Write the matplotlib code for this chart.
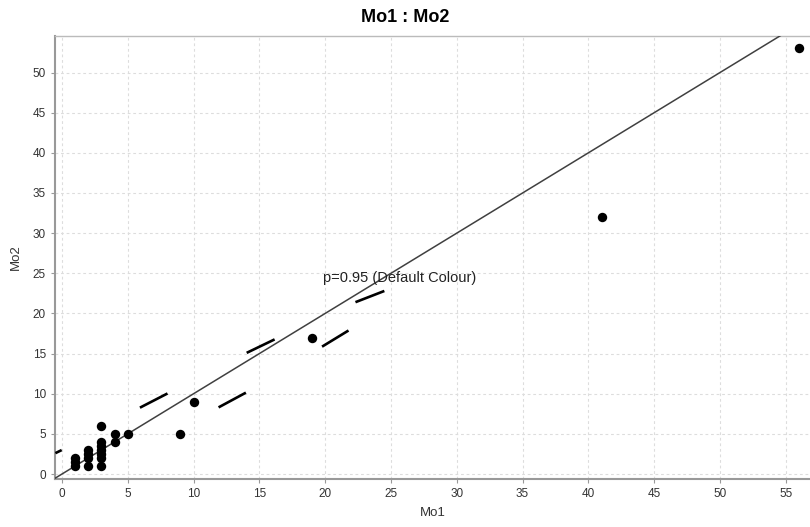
import matplotlib
matplotlib.use('Agg')
import matplotlib.pyplot as plt
import numpy as np

plt.rcParams['font.family'] = ['Liberation Sans', 'DejaVu Sans']
plt.rcParams['lines.scale_dashes'] = False

# Observations
mo1 = [1, 1, 1, 2, 2, 2, 2, 3, 3, 3, 3, 3, 3, 3, 4, 4, 5, 9, 10, 19, 41, 56]
mo2 = [1, 1.5, 2, 1, 2, 2.5, 3, 1, 2, 2.5, 3, 3.5, 4, 6, 4, 5, 5, 5, 9, 17, 32, 53]

# p=0.95 band
upper_x = [-0.5, 0, 5.85, 7.98, 14.05, 16.2, 22.3, 24.5]
upper_y = [2.6, 3.0, 8.2, 10.0, 15.1, 16.8, 21.4, 22.8]
lower_x = [11.9, 14.05, 19.8, 21.9]
lower_y = [8.3, 10.2, 15.9, 18.0]

x_ticks = list(range(0, 60, 5))
y_ticks = list(range(0, 55, 5))

fig = plt.figure(figsize=(8.1, 5.27), dpi=100)
ax = fig.add_axes([55 / 810, (527 - 479) / 527, 1 - 55 / 810, (479 - 36) / 527])

xmin, xmax = -0.53, 56.84
ymin, ymax = -0.62, 54.55
ax.set_xlim(xmin, xmax)
ax.set_ylim(ymin, ymax)

# y = x line
ax.plot([xmin, xmax], [xmin, xmax], color='#404040', linewidth=1.1, zorder=3)

# band (long dashes), dash lengths in points
px = 72 / 100
dash = (31 * px, 89 * px)
ax.plot(upper_x, upper_y, color='black', linewidth=1.9,
        linestyle=(24 * px, dash), dash_capstyle='butt', zorder=3)
ax.plot(lower_x, lower_y, color='black', linewidth=1.9,
        linestyle=(0, dash), dash_capstyle='butt', zorder=3)

ax.scatter(mo1, mo2, s=46, color='black', zorder=4, linewidths=0)

ax.text(19.8, 24.4, 'p=0.95 (Default Colour)', fontsize=10.5, color='#222222',
        va='center', ha='left', zorder=5)

ax.set_xticks(x_ticks)
ax.set_yticks(y_ticks)
ax.tick_params(axis='both', labelsize=8.5, colors='#333333', length=3,
               color='#999999', direction='out')
ax.grid(True, color='#dddddd', linestyle=(0, (2, 2)), linewidth=0.8)
ax.set_axisbelow(True)

for side in ['left', 'bottom']:
    ax.spines[side].set_color('#999999')
    ax.spines[side].set_linewidth(1.5)
ax.spines['top'].set_color('#bbbbbb')
ax.spines['top'].set_linewidth(1.0)
ax.spines['right'].set_visible(False)

ax.set_xlabel('Mo1', fontsize=9.5, color='#333333', labelpad=5)
ax.set_ylabel('Mo2', fontsize=9.5, color='#333333', labelpad=8)

fig.text(0.5, 1 - 18 / 527, 'Mo1 : Mo2', ha='center', va='center',
         fontsize=13, fontweight='bold', color='black')

fig.savefig('out.png', dpi=100, facecolor='white')
